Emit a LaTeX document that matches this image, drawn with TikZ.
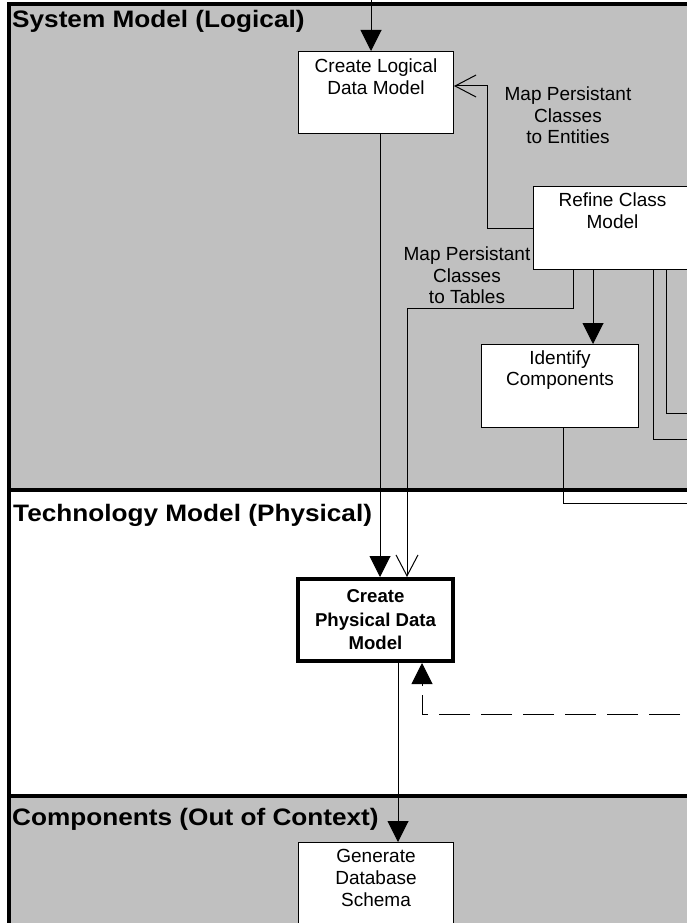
\documentclass[tikz,border=0pt]{standalone}
\usepackage{fontspec}
\setmainfont{Liberation Sans}
\newfontfamily\ttlfont[FakeStretch=1.1]{Liberation Sans}
\usetikzlibrary{arrows.meta}
\definecolor{lanegray}{RGB}{192,192,192}
\newcommand{\bxt}[4]{\parbox[c][#2][t]{#1}{\centering\rule{0pt}{#3}#4\par}}
\begin{document}
\begin{tikzpicture}[x=1pt,y=-1pt,
  conn/.style={line width=1pt, draw=black},
  solidtip/.style={-{Triangle[length=21pt,width=21pt]}},
  opentip/.style={-{Straight Barb[length=21pt,width=22pt,line width=1pt]}},
  box/.style={draw=black, line width=1pt, fill=white, inner sep=0pt},
  boldbox/.style={draw=black, line width=4pt, fill=white, inner sep=0pt},
  nfont/.style={font=\fontsize{19}{21.8}\selectfont},
  lbl/.style={nfont, align=center, inner sep=0pt},
  ttl/.style={font=\ttlfont\bfseries\fontsize{23.8}{28}\selectfont, inner sep=0pt, anchor=base west},
  lanebar/.style={line width=3.5pt}
]
\useasboundingbox (0,0) rectangle (687,923);
\clip (0,0) rectangle (687,923);
% lanes
\fill[lanegray] (9,4) rectangle (700,490);
\fill[lanegray] (9,796) rectangle (700,940);
\draw[lanebar, line join=miter] (9,940) -- (9,4) -- (700,4);
\draw[lanebar] (9,490) -- (700,490);
\draw[lanebar] (9,796) -- (700,796);
% lane titles
\node[ttl] (t1) at (12,28) {System Model (Logical)};
\node[ttl] (t2) at (13,521) {Technology Model (Physical)};
\node[ttl] (t3) at (12,825) {Components (Out of Context)};
% boxes
\node[box, nfont, anchor=north west] (cldm) at (298,51) {\bxt{155pt}{82pt}{21pt}{Create Logical\\Data Model}};
\node[box, nfont, anchor=north west] (rcm) at (533,186) {\bxt{158pt}{83pt}{20pt}{Refine Class\\Model}};
\node[box, nfont, anchor=north west] (idc) at (481,344) {\bxt{157pt}{83pt}{19.5pt}{Identify\\Components}};
\node[boldbox, font=\bfseries\fontsize{18.6}{23.5}\selectfont, anchor=north west] (cpdm) at (296,577) {\bxt{155pt}{82pt}{23.7pt}{Create\\Physical Data\\Model}};
\node[box, nfont, anchor=north west] (gds) at (298,842) {\bxt{155pt}{83pt}{20pt}{Generate\\Database\\Schema}};
% labels
\node[lbl, anchor=north] (l1) at (568,85) {\rule{0pt}{15pt}Map Persistant\\Classes\\to Entities};
\node[lbl, anchor=north] (l2) at (467,245) {\rule{0pt}{15pt}Map Persistant\\Classes\\to Tables};
% helper coordinates
\coordinate (topin) at (371,-5);
\coordinate (m1) at (487,86);
\coordinate (m2a) at (573,308);
\coordinate (m2b) at (407,308);
\coordinate (eA) at (700,413);
\coordinate (eB) at (700,439);
\coordinate (eC) at (700,503);
\coordinate (dE) at (722,714);
\coordinate (dC) at (422,714);
\coordinate (dT) at (422,695);
% connectors
\draw[conn, solidtip] (topin) -- (topin |- cldm.north);
\draw[conn, opentip] (rcm.west) -| (m1) -- (m1 -| cldm.east);
\draw[conn, opentip] (m2a |- rcm.south) -- (m2a) -- (m2b) -- (m2b |- cpdm.north);
\draw[conn, solidtip] ([xshift=60pt]rcm.south west) -- ([xshift=60pt]rcm.south west |- idc.north);
\draw[conn] ([xshift=133pt]rcm.south west) |- (eA);
\draw[conn] ([xshift=120pt]rcm.south west) |- (eB);
\draw[conn] ([xshift=82pt]idc.south west) |- (eC);
\draw[conn, solidtip] ([xshift=82pt]cldm.south west) -- ([xshift=82pt]cldm.south west |- cpdm.north);
\draw[conn, solidtip] ([xshift=102pt]cpdm.south west) -- ([xshift=102pt]cpdm.south west |- gds.north);
\draw[conn, dash pattern=on 31pt off 11pt] (dE) -- (dC) -- (dT);
\draw[conn, solidtip, shorten <=9pt] (dT) -- (dT |- cpdm.south);
\end{tikzpicture}
\end{document}
